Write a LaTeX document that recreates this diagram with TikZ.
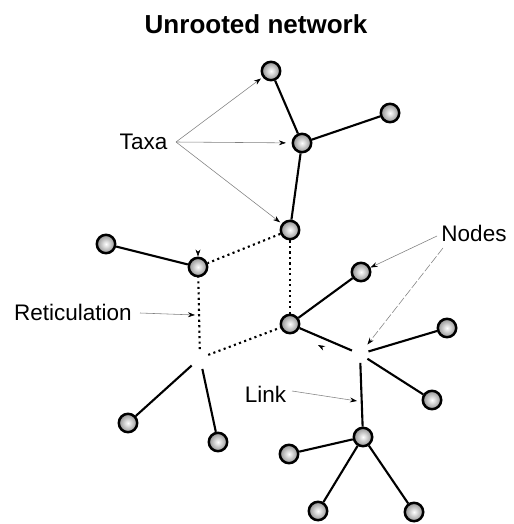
\documentclass[tikz,border=0pt]{standalone}
\usepackage{fontspec}
\setmainfont{Liberation Sans}
\usetikzlibrary{arrows.meta}

\begin{document}
\begin{tikzpicture}[x=0.025cm,y=-0.025cm,
  taxon/.style={circle,draw=black,line width=1.8pt,minimum size=0.46cm,inner sep=0pt,
    shading=radial,inner color=white,outer color=gray!85},
  branch/.style={line width=1.5pt},
  retic/.style={line width=1.5pt,dash pattern=on 1.5pt off 2.4pt},
  pointer/.style={gray,line width=0.4pt,-{Stealth[black,length=5pt,width=3.5pt]}},
  gap/.style={shorten <=0.22cm},
  lbl/.style={font=\fontsize{16}{19}\selectfont}]
\useasboundingbox (0,0) rectangle (513,524);

\node[font=\bfseries\fontsize{18.5}{22}\selectfont] (title) at (256,24) {Unrooted network};

% taxa
\node[taxon] (A) at (271,71) {};
\node[taxon] (B) at (302,143) {};
\node[taxon] (C) at (390,113) {};
\node[taxon] (D) at (290,230) {};
\node[taxon] (E) at (106,244) {};
\node[taxon] (F) at (198,267) {};
\node[taxon] (G) at (361,272) {};
\node[taxon] (H) at (290,324) {};
\node[taxon] (I) at (447,328) {};
\node[taxon] (J) at (432,400) {};
\node[taxon] (K) at (128,423) {};
\node[taxon] (L) at (218,442) {};
\node[taxon] (M) at (363,437) {};
\node[taxon] (N) at (289,454) {};
\node[taxon] (O) at (318,511) {};
\node[taxon] (P) at (414,512) {};

% unlabelled internal nodes
\coordinate (r1) at (200,358);
\coordinate (r2) at (360,354);

% links
\draw[branch] (A) -- (B);
\draw[branch] (B) -- (C);
\draw[branch] (B) -- (D);
\draw[branch] (E) -- (F);
\draw[branch] (H) -- (G);
\draw[branch,gap] (r2) -- (H);
\draw[branch,gap] (r2) -- (I);
\draw[branch,gap] (r2) -- (J);
\draw[branch,gap] (r2) -- (M);
\draw[branch] (M) -- (N);
\draw[branch] (M) -- (O);
\draw[branch] (M) -- (P);
\draw[branch,shorten <=0.28cm] (r1) -- (K);
\draw[branch,shorten <=0.28cm] (r1) -- (L);

% reticulations
\draw[retic] (D) -- (F);
\draw[retic] (D) -- (H);
\draw[retic,gap] (r1) -- (F);
\draw[retic,gap] (r1) -- (H);

% labels
\node[lbl] (taxa) at (143.5,142) {Taxa};
\node[lbl] (reticulation) at (73,312) {Reticulation};
\node[lbl] (nodes) at (474,233) {Nodes};
\node[lbl] (link) at (265.5,394) {Link};

\coordinate (taxaFoot) at (176,142);
\coordinate (reticFoot) at (140,313);
\coordinate (reticTip) at (195,315);
\coordinate (nodesFootA) at (437,236);
\coordinate (nodesFootB) at (443,248);
\coordinate (linkFoot) at (292,391);
\coordinate (linkTip) at (357,401);

\draw[pointer,shorten >=1.5pt] (taxaFoot) -- (A);
\draw[pointer,shorten >=4pt] (taxaFoot) -- (B);
\draw[pointer,shorten >=1.5pt] (taxaFoot) -- (D);
\draw[pointer] (reticFoot) -- (reticTip);
\draw[pointer] (nodesFootA) -- (G);
\draw[pointer,dash pattern=on 6pt off 1.5pt,shorten >=0.3cm] (nodesFootB) -- (r2);
\draw[pointer] (linkFoot) -- (linkTip);

% stray arrow heads
\coordinate (strayA) at (198,246);
\coordinate (strayB) at (331,352);
\coordinate (strayBtip) at (318,345);
\draw[pointer,white] (strayA) -- (F);
\draw[pointer,white] (strayB) -- (strayBtip);
\end{tikzpicture}
\end{document}
